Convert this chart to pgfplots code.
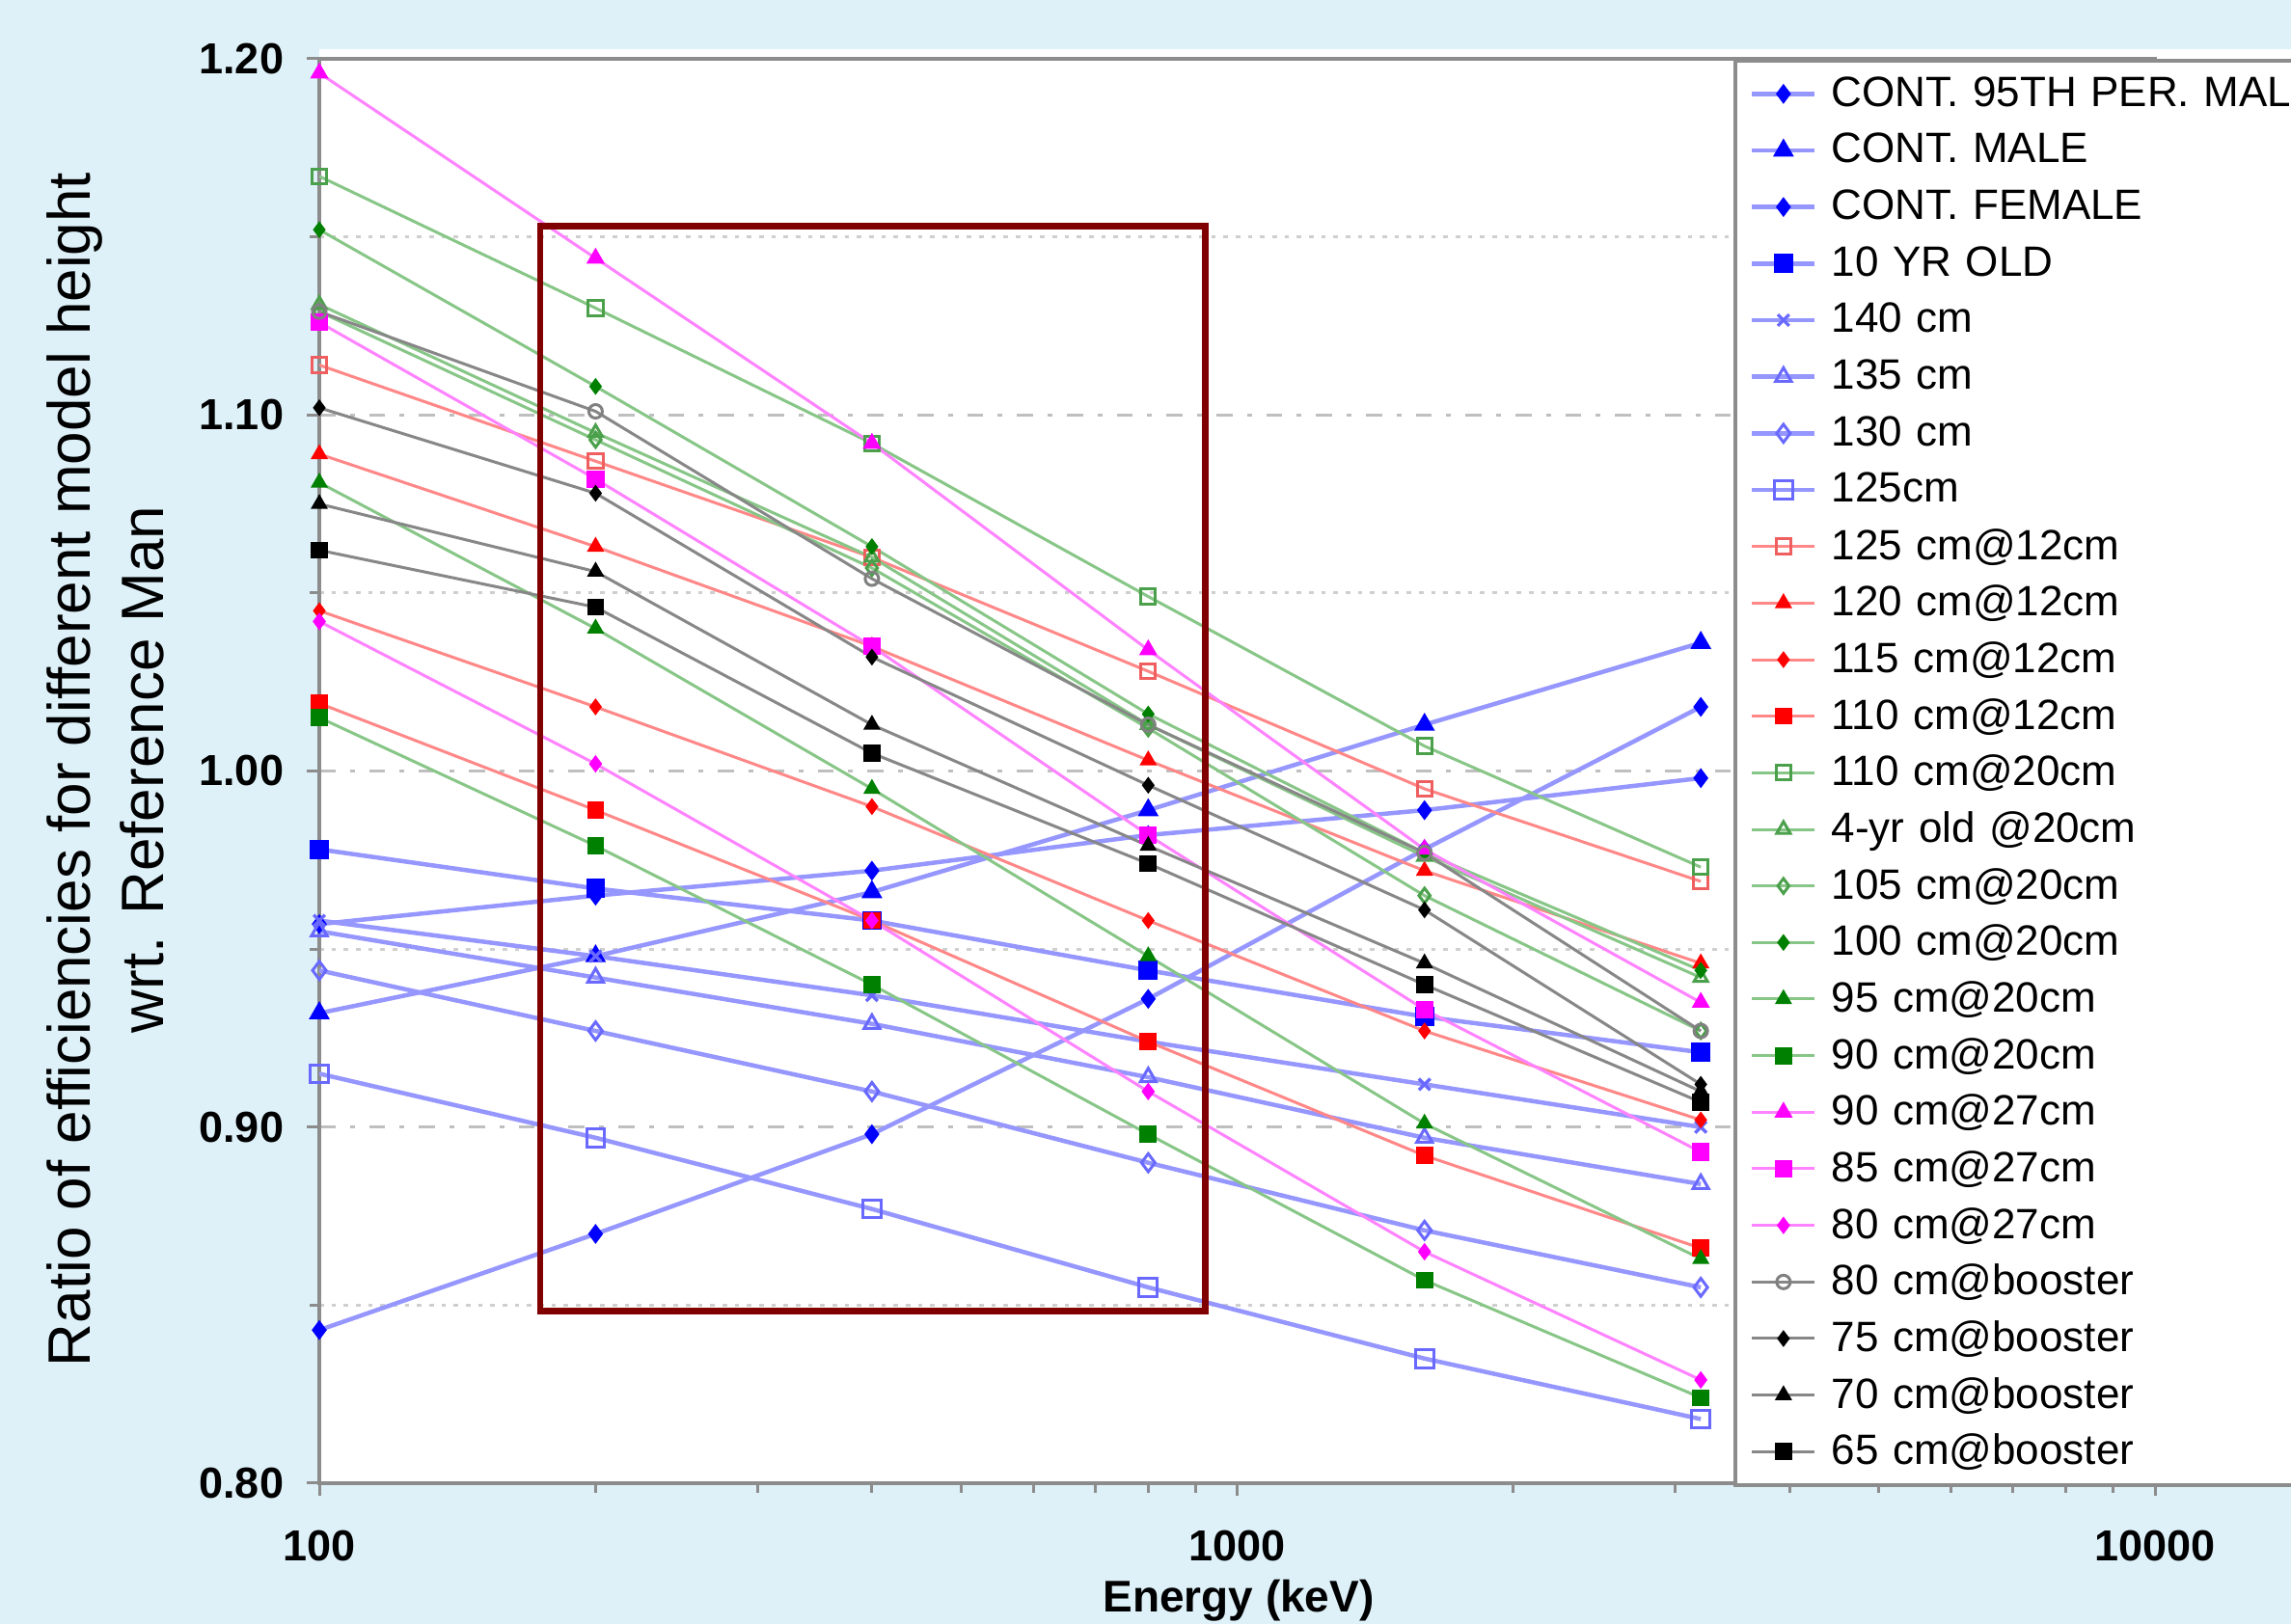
\documentclass[border=0pt]{standalone}
\usepackage{fontspec}
\setmainfont{Liberation Sans}
\usepackage{pgfplots}
\usepackage{pgfplotstable}
\pgfplotsset{compat=1.18}

\definecolor{bgblue}{RGB}{222,241,249}
\definecolor{lblue}{RGB}{150,150,255}
\definecolor{mblue}{RGB}{105,105,255}
\definecolor{pblue}{RGB}{0,0,255}
\definecolor{lred}{RGB}{255,135,135}
\definecolor{mred}{RGB}{240,95,95}
\definecolor{pred}{RGB}{255,0,0}
\definecolor{lgreen}{RGB}{135,198,135}
\definecolor{mgreen}{RGB}{75,160,75}
\definecolor{dgreen}{RGB}{0,128,0}
\definecolor{lmag}{RGB}{255,130,255}
\definecolor{pmag}{RGB}{255,0,255}
\definecolor{lgray}{RGB}{135,135,135}
\definecolor{axgray}{RGB}{140,140,140}
\definecolor{boxred}{RGB}{128,0,0}

% ratio of efficiencies vs energy (keV), one column per model
\pgfplotstableread{
E    p95   male  fem   yr10  c140  c135  c130  c125  r125  r120  r115  r110  g110  g4yr  g105  g100  g95   g90   m90   m85   m80   b80   b75   b70   b65
100  0.843 0.932 0.957 0.978 0.958 0.955 0.944 0.915 1.114 1.089 1.045 1.019 1.167 1.131 1.129 1.152 1.081 1.015 1.196 1.126 1.042 1.129 1.102 1.075 1.062
200  0.870 0.948 0.965 0.967 0.948 0.942 0.927 0.897 1.087 1.063 1.018 0.989 1.130 1.095 1.093 1.108 1.040 0.979 1.144 1.082 1.002 1.101 1.078 1.056 1.046
400  0.898 0.966 0.972 0.958 0.937 0.929 0.910 0.877 1.060 1.035 0.990 0.958 1.092 1.060 1.057 1.063 0.995 0.940 1.092 1.035 0.958 1.054 1.032 1.013 1.005
800  0.936 0.989 0.982 0.944 0.924 0.914 0.890 0.855 1.028 1.003 0.958 0.924 1.049 1.013 1.012 1.016 0.948 0.898 1.034 0.982 0.910 1.013 0.996 0.979 0.974
1600 0.978 1.013 0.989 0.931 0.912 0.897 0.871 0.835 0.995 0.972 0.927 0.892 1.007 0.976 0.965 0.977 0.901 0.857 0.978 0.933 0.865 0.977 0.961 0.946 0.940
3200 1.018 1.036 0.998 0.921 0.900 0.884 0.855 0.818 0.969 0.946 0.902 0.866 0.973 0.942 0.927 0.944 0.863 0.824 0.935 0.893 0.829 0.927 0.912 0.910 0.907
}\ratios

\pgfplotsset{
  bl/.style={lblue, line width=1.35pt},
  rd/.style={lred, line width=0.9pt},
  gr/.style={lgreen, line width=0.9pt},
  mg/.style={lmag, line width=0.9pt},
  gy/.style={lgray, line width=0.9pt},
}

\begin{document}
\begin{tikzpicture}
\path[use as bounding box] (0pt,0pt) rectangle (712.5pt,505.2pt);
\clip (0pt,0pt) rectangle (712.5pt,505.2pt);
\fill[bgblue] (0pt,0pt) rectangle (712.5pt,505.2pt);
\fill[white] (99.3pt,486.9pt) rectangle (712.5pt,489.9pt);

\begin{axis}[
    at={(99.3pt,43.8pt)}, anchor=south west,
    scale only axis, width=570.9pt, height=443.1pt,
    xmode=log, xmin=100, xmax=10000,
    xtick={100,1000,10000}, xticklabels={100,1000,10000},
    ymin=0.8, ymax=1.2,
    ytick={0.8,0.9,1.0,1.1,1.2}, minor ytick={0.85,0.95,1.05,1.15},
    tick align=outside, xtick pos=left, ytick pos=left,
    major tick length=3.9pt, minor tick length=3pt,
    every tick/.style={axgray, line width=0.9pt},
    ymajorgrids, yminorgrids,
    major grid style={gray!50, line width=0.9pt, dash pattern=on 5pt off 4.5pt on 1.5pt off 4.5pt},
    minor grid style={gray!38, line width=0.9pt, dash pattern=on 1.4pt off 2.4pt},
    axis line style={axgray, line width=1.4pt},
    axis background/.style={fill=white},
    /pgf/number format/assume math mode=true,
    yticklabel style={/pgf/number format/.cd, fixed, fixed zerofill, precision=2, /tikz/.cd,
        font=\bfseries\fontsize{13.5}{16}\selectfont, inner sep=0pt, xshift=-7pt},
    xticklabel style={font=\bfseries\fontsize{13.5}{16}\selectfont, anchor=base, inner sep=0pt, yshift=-20.4pt},
    legend style={at={(0.7704,1)}, anchor=north west, draw=axgray, line width=1.2pt, fill=white,
        inner xsep=4.5pt, inner ysep=1.5pt, row sep=0pt, column sep=4.5pt,
        font=\fontsize{13.2}{15}\selectfont,
        nodes={inner sep=0pt, minimum height=17.6pt, text width=200pt, align=left}},
    legend cell align=left,
    legend image code/.code={\draw[mark repeat=2,mark phase=2,#1] plot coordinates {(0pt,0pt) (9.75pt,0pt) (19.5pt,0pt)};},
]
\addplot[bl, mark=diamond*, mark size=2pt, mark options={pblue}] table[x=E, y=p95]{\ratios};
\addlegendentry{CONT. 95TH PER. MAL}
\addplot[bl, mark=triangle*, mark size=2.4pt, mark options={pblue}] table[x=E, y=male]{\ratios};
\addlegendentry{CONT. MALE}
\addplot[bl, mark=diamond*, mark size=2pt, mark options={pblue}] table[x=E, y=fem]{\ratios};
\addlegendentry{CONT. FEMALE}
\addplot[bl, mark=square*, mark size=2.3pt, mark options={pblue}] table[x=E, y=yr10]{\ratios};
\addlegendentry{10 YR OLD}
\addplot[bl, mark=x, mark size=2.5pt, mark options={mblue, line width=1pt}] table[x=E, y=c140]{\ratios};
\addlegendentry{140 cm}
\addplot[bl, mark=triangle, mark size=2.8pt, mark options={mblue, line width=0.9pt}] table[x=E, y=c135]{\ratios};
\addlegendentry{135 cm}
\addplot[bl, mark=diamond, mark size=2.8pt, mark options={mblue, line width=0.9pt}] table[x=E, y=c130]{\ratios};
\addlegendentry{130 cm}
\addplot[bl, mark=square, mark size=2.8pt, mark options={mblue, line width=0.9pt}] table[x=E, y=c125]{\ratios};
\addlegendentry{125cm}

\addplot[rd, mark=square, mark size=2.3pt, mark options={mred, line width=0.9pt}] table[x=E, y=r125]{\ratios};
\addlegendentry{125 cm@12cm}
\addplot[rd, mark=triangle*, mark size=2.2pt, mark options={pred}] table[x=E, y=r120]{\ratios};
\addlegendentry{120 cm@12cm}
\addplot[rd, mark=diamond*, mark size=1.9pt, mark options={pred}] table[x=E, y=r115]{\ratios};
\addlegendentry{115 cm@12cm}
\addplot[rd, mark=square*, mark size=2.2pt, mark options={pred}] table[x=E, y=r110]{\ratios};
\addlegendentry{110 cm@12cm}

\addplot[gr, mark=square, mark size=2.3pt, mark options={mgreen, line width=0.9pt}] table[x=E, y=g110]{\ratios};
\addlegendentry{110 cm@20cm}
\addplot[gr, mark=triangle, mark size=2.4pt, mark options={mgreen, line width=0.9pt}] table[x=E, y=g4yr]{\ratios};
\addlegendentry{4-yr old @20cm}
\addplot[gr, mark=diamond, mark size=2.3pt, mark options={mgreen, line width=0.9pt}] table[x=E, y=g105]{\ratios};
\addlegendentry{105 cm@20cm}
\addplot[gr, mark=diamond*, mark size=1.9pt, mark options={dgreen}] table[x=E, y=g100]{\ratios};
\addlegendentry{100 cm@20cm}
\addplot[gr, mark=triangle*, mark size=2.2pt, mark options={dgreen}] table[x=E, y=g95]{\ratios};
\addlegendentry{95 cm@20cm}
\addplot[gr, mark=square*, mark size=2.2pt, mark options={dgreen}] table[x=E, y=g90]{\ratios};
\addlegendentry{90 cm@20cm}

\addplot[mg, mark=triangle*, mark size=2.4pt, mark options={pmag}] table[x=E, y=m90]{\ratios};
\addlegendentry{90 cm@27cm}
\addplot[mg, mark=square*, mark size=2.3pt, mark options={pmag}] table[x=E, y=m85]{\ratios};
\addlegendentry{85 cm@27cm}
\addplot[mg, mark=diamond*, mark size=2pt, mark options={pmag}] table[x=E, y=m80]{\ratios};
\addlegendentry{80 cm@27cm}

\addplot[gy, mark=o, mark size=2.1pt, mark options={gray, line width=0.9pt}] table[x=E, y=b80]{\ratios};
\addlegendentry{80 cm@booster}
\addplot[gy, mark=diamond*, mark size=1.9pt, mark options={black}] table[x=E, y=b75]{\ratios};
\addlegendentry{75 cm@booster}
\addplot[gy, mark=triangle*, mark size=2.2pt, mark options={black}] table[x=E, y=b70]{\ratios};
\addlegendentry{70 cm@booster}
\addplot[gy, mark=square*, mark size=2.2pt, mark options={black}] table[x=E, y=b65]{\ratios};
\addlegendentry{65 cm@booster}

% highlighted energy window
\draw[boxred, line width=2pt] (axis cs:174,0.8483) rectangle (axis cs:923,1.153);
\end{axis}

\node[rotate=90, align=center, font=\fontsize{18.6}{22.8}\selectfont] at (32.7pt,265.8pt)
    {Ratio of efficiencies for different model height\\wrt. Reference Man};
\node[anchor=base, font=\bfseries\fontsize{13.8}{16}\selectfont] at (385.2pt,3.6pt) {Energy (keV)};
\end{tikzpicture}
\end{document}
